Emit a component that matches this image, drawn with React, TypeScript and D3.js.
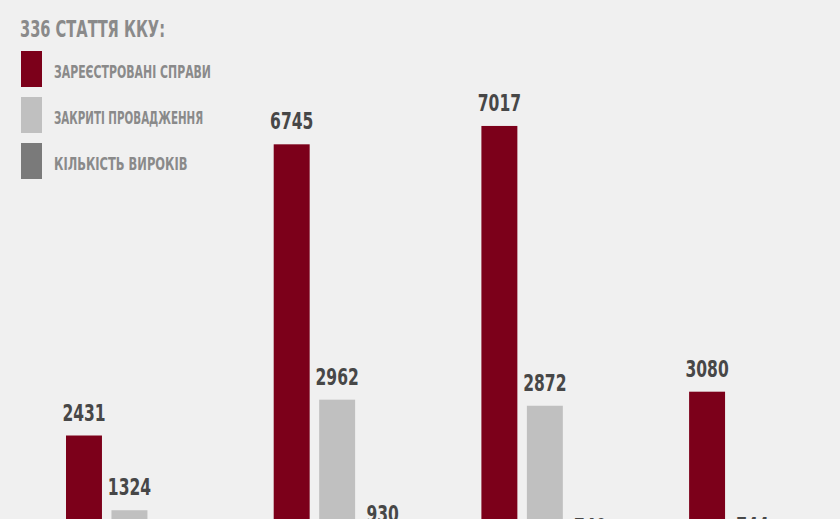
import { useEffect, useRef } from "react";
import * as d3 from "d3";

// periods are not labelled in the visible part of the picture
const periods = ["p1", "p2", "p3", "p4"];
const seriesNames = [
  "ЗАРЕЄСТРОВАНІ СПРАВИ",
  "ЗАКРИТІ ПРОВАДЖЕННЯ",
  "КІЛЬКІСТЬ ВИРОКІВ",
];
const registered = [2431, 6745, 7017, 3080];
const closed = [1324, 2962, 2872, 744];
const verdicts = [600, 930, 740, 500];
const title = "336 СТАТТЯ ККУ:";

const colors = ["#7c001a", "#c0c0c0", "#7a7a7a"];
const font = "'Liberation Sans Narrow', 'DejaVu Sans Condensed', 'Roboto', sans-serif";

export default function App() {
  const svgRef = useRef<SVGSVGElement>(null);

  useEffect(() => {
    document.body.style.margin = "0";
    if (!svgRef.current) return;

    const width = 840;
    const height = 519;

    const svg = d3.select(svgRef.current);
    svg.selectAll("*").remove();
    svg.attr("width", width).attr("height", height).attr("viewBox", `0 0 ${width} ${height}`);

    svg.append("rect").attr("width", width).attr("height", height).attr("fill", "#f0f0f0");

    const values = [registered, closed, verdicts];
    const rows = periods.map((p, i) => ({
      period: p,
      bars: values.map((v, s) => ({ series: s, value: v[i] })),
    }));

    const x0 = d3.scaleBand<string>().domain(periods).range([66, 816]).paddingInner(0.389).paddingOuter(0);
    const x1 = d3
      .scaleBand<number>()
      .domain([0, 1, 2])
      .range([0, x0.bandwidth()])
      .paddingInner(0.209)
      .paddingOuter(0);
    const y = d3.scaleLinear().domain([0, 8000]).range([599.6, 599.6 - 8000 * 0.0675]);

    const g = svg.append("g");
    const groups = g
      .selectAll("g.group")
      .data(rows)
      .enter()
      .append("g")
      .attr("class", "group")
      .attr("transform", (d) => `translate(${x0(d.period)},0)`);

    groups
      .selectAll("rect")
      .data((d) => d.bars)
      .enter()
      .append("rect")
      .attr("x", (d) => x1(d.series)!)
      .attr("y", (d) => y(d.value))
      .attr("width", x1.bandwidth())
      .attr("height", (d) => y(0) - y(d.value))
      .attr("fill", (d) => colors[d.series]);

    groups
      .selectAll("text")
      .data((d) => d.bars)
      .enter()
      .append("text")
      .attr("x", (d) => x1(d.series)! + x1.bandwidth() / 2)
      .attr("y", (d) => y(d.value) - 15)
      .attr("text-anchor", "middle")
      .attr("font-family", font)
      .attr("font-weight", "bold")
      .attr("font-size", 23)
      .attr("fill", "#474747")
      .attr("textLength", (d) => String(d.value).length * 10.8)
      .attr("lengthAdjust", "spacingAndGlyphs")
      .text((d) => d.value);

    // Legend
    const legend = svg.append("g");
    legend
      .append("text")
      .attr("x", 20)
      .attr("y", 37)
      .attr("font-family", font)
      .attr("font-weight", "bold")
      .attr("font-size", 23)
      .attr("fill", "#8a8a8a")
      .attr("textLength", 145)
      .attr("lengthAdjust", "spacingAndGlyphs")
      .text(title);

    const items = legend
      .selectAll("g.item")
      .data(seriesNames)
      .enter()
      .append("g")
      .attr("class", "item")
      .attr("transform", (_, i) => `translate(21,${51 + i * 46})`);

    items
      .append("rect")
      .attr("width", 21)
      .attr("height", 36)
      .attr("fill", (_, i) => colors[i]);

    items
      .append("text")
      .attr("x", 33)
      .attr("y", 27)
      .attr("font-family", font)
      .attr("font-weight", "bold")
      .attr("font-size", 17)
      .attr("fill", "#8a8a8a")
      .attr("textLength", (d) => d.length * 7.85)
      .attr("lengthAdjust", "spacingAndGlyphs")
      .text((d) => d);
  }, []);

  return <svg ref={svgRef} style={{ display: "block" }} />;
}
